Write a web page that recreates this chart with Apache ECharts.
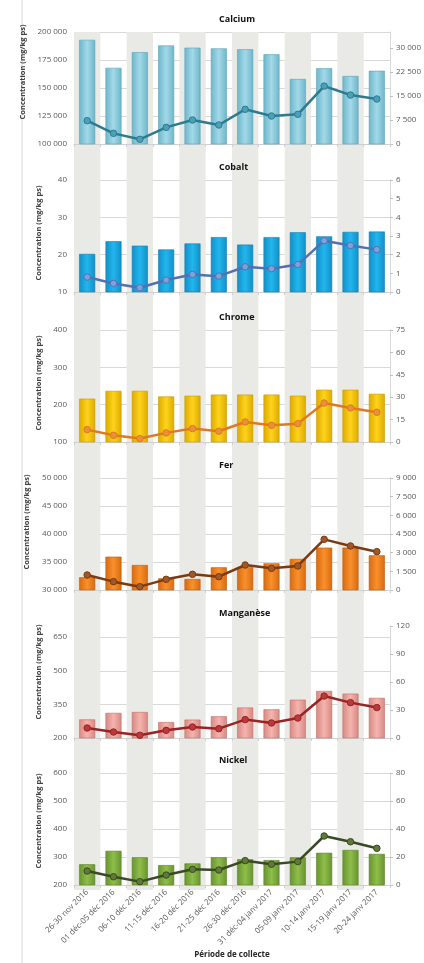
<!DOCTYPE html>
<html><head><meta charset="utf-8">
<script src="https://cdn.jsdelivr.net/npm/echarts@6/dist/echarts.min.js"></script>
<style>html,body{margin:0;padding:0;background:#fff}#c{width:424px;height:963px}</style>
</head><body><div id="c"></div>
<script>
const categories = ["26-30 nov 2016","01 déc-05 déc 2016","06-10 déc 2016","11-15 déc 2016","16-20 déc 2016","21-25 déc 2016","26-30 déc 2016","31 déc-04 janv 2017","05-09 janv 2017","10-14 janv 2017","15-19 janv 2017","20-24 janv 2017"];
const elements = ["Calcium","Cobalt","Chrome","Fer","Manganèse","Nickel"];

const calciumBars = [193000,168000,182000,188000,186000,185400,184600,180100,158000,167600,160700,165400];
const calciumLine = [7280,3330,1460,5200,7500,5940,10840,8750,9280,18100,15300,14060];
const cobaltBars = [20.2,23.6,22.4,21.4,23.0,24.7,22.7,24.7,26.0,24.9,26.1,26.2];
const cobaltLine = [0.80,0.46,0.23,0.64,0.94,0.85,1.35,1.25,1.47,2.75,2.49,2.27];
const chromeBars = [216,237,237,222,224,227,227,227,224,240,240,229];
const chromeLine = [8.3,4.5,2.3,6.1,9.0,7.2,13.4,11.2,12.3,26.1,22.8,19.9];
const ferBars = [32270,35950,34460,32090,31960,34050,34050,34760,35540,37560,37560,36190];
const ferLine = [1205,670,268,857,1260,1070,2009,1740,1930,4070,3540,3080];
const mnBars = [283,312,316,271,282,297,336,328,371,410,398,379];
const mnLine = [10.7,6.4,2.9,8.2,11.8,10.0,19.7,16.1,21.4,45.0,37.9,32.6];
const niBars = [274,322,299,271,277,299,292,289,299,315,325,311];
const niLine = [10.0,5.9,2.4,7.1,11.2,10.7,17.4,14.8,16.7,35.0,30.9,26.2];

// left axis ticks and right axis ticks per element
const leftTicks = [
  [100000,125000,150000,175000,200000],
  [10,20,30,40],
  [100,200,300,400],
  [30000,35000,40000,45000,50000],
  [200,350,500,650],
  [200,300,400,500,600]
];
const leftMax = [200000,40,400,50000,700,600];
const rightTicks = [
  [0,7500,15000,22500,30000],
  [0,1,2,3,4,5,6],
  [0,15,30,45,60,75],
  [0,1500,3000,4500,6000,7500,9000],
  [0,30,60,90,120],
  [0,20,40,60,80]
];
const rightMax = [35000,6,75,9000,120,80];

const barSeries = [calciumBars,cobaltBars,chromeBars,ferBars,mnBars,niBars];
const lineSeries = [calciumLine,cobaltLine,chromeLine,ferLine,mnLine,niLine];

const styles = [
  {light:'#a3d9e8',dark:'#6cb6ca',border:'#5aa3b8',line:'#2e7b8f',marker:'#4aa0b8'},
  {light:'#22b6ee',dark:'#138ec6',border:'#0f7fb3',line:'#5470b0',marker:'#7ea0dc'},
  {light:'#ffd31c',dark:'#dcaa00',border:'#c99a00',line:'#e07a22',marker:'#e8903a'},
  {light:'#fa902c',dark:'#d76a10',border:'#c05a08',line:'#7a3a12',marker:'#a0582a'},
  {light:'#f5b4ae',dark:'#d78882',border:'#c0706a',line:'#9a2424',marker:'#b83a3a'},
  {light:'#8fbe4a',dark:'#689330',border:'#5a8228',line:'#3a4a26',marker:'#5e7a36'}
];
const tops = [32,180,330,478,626,773];
const namePad = [32,6,6,24,20,16];
const FONT = 'Open Sans';
const fmt = v => String(v).replace(/\B(?=(\d{3})+(?!\d))/g,' ');

const grids = [{left:74,right:34,top:32,height:858}];
const xAxes = [{
  gridIndex:0,type:'category',data:categories,boundaryGap:true,
  axisLine:{show:false},axisTick:{show:false},axisLabel:{show:false},
  splitLine:{show:false},
  splitArea:{show:true,interval:0,areaStyle:{color:['#e9e9e5','rgba(255,255,255,0)']}}
}];
const yAxes = [{gridIndex:0,type:'value',min:0,max:1,show:false}];
const series = [];
const titles = [];

elements.forEach((name,i)=>{
  const g = i+1;
  grids.push({left:74,right:34,top:tops[i],height:112});
  const last = i===elements.length-1;
  xAxes.push({
    gridIndex:g,type:'category',data:categories,boundaryGap:true,
    axisLine:{show:true,lineStyle:{color:'#d0d0d0'}},
    axisTick:{show:true,length:3,interval:0,lineStyle:{color:'#d0d0d0'}},
    axisLabel:{show:last,interval:0,rotate:45,fontSize:8,color:'#595959',fontFamily:FONT,margin:6},
    name:last?'Période de collecte':'',nameLocation:'middle',nameGap:66,
    nameTextStyle:{fontSize:8,fontWeight:'bold',color:'#262626',fontFamily:FONT}
  });
  const lt = leftTicks[i], rt = rightTicks[i];
  yAxes.push({
    gridIndex:g,type:'value',position:'left',min:lt[0],max:leftMax[i],
    axisLabel:{customValues:lt,fontSize:8,color:'#595959',fontFamily:FONT,margin:7,formatter:fmt},
    axisTick:{show:false,customValues:lt},
    axisLine:{show:false},
    splitLine:{show:true,lineStyle:{color:'#d9d9d9',width:1}},
    name:'Concentration (mg/kg ps)',nameLocation:'middle',nameGap:31,nameRotate:90,
    nameTextStyle:{fontSize:7.5,fontWeight:'bold',color:'#404040',fontFamily:FONT,padding:[0,0,0,namePad[i]]}
  });
  yAxes.push({
    gridIndex:g,type:'value',position:'right',min:0,max:rightMax[i],
    axisLabel:{customValues:rt,fontSize:8,color:'#595959',fontFamily:FONT,margin:6,formatter:fmt},
    axisTick:{show:true,customValues:rt,length:3,lineStyle:{color:'#bfbfbf'}},
    axisLine:{show:true,lineStyle:{color:'#d9d9d9'}},
    splitLine:{show:false}
  });
  const s = styles[i];
  series.push({
    type:'bar',xAxisIndex:g,yAxisIndex:2*i+1,data:barSeries[i],barWidth:16,
    itemStyle:{
      color:{type:'linear',x:0,y:0,x2:1,y2:0,colorStops:[{offset:0,color:s.dark},{offset:0.5,color:s.light},{offset:1,color:s.dark}]},
      borderColor:s.border,borderWidth:0.6
    },z:2
  });
  series.push({
    type:'line',xAxisIndex:g,yAxisIndex:2*i+2,data:lineSeries[i],
    symbol:'circle',symbolSize:6.5,
    lineStyle:{color:s.line,width:2.5},
    itemStyle:{color:s.marker,borderColor:s.line,borderWidth:1},z:3
  });
  titles.push({text:name,left:219,top:tops[i]-17,padding:0,
    textStyle:{fontSize:9,fontWeight:'bold',color:'#111',fontFamily:FONT}});
});

const chart = echarts.init(document.getElementById('c'),null,{renderer:'canvas'});
chart.setOption({
  animation:false,
  backgroundColor:'#ffffff',
  title:titles,
  grid:grids,xAxis:xAxes,yAxis:yAxes,series:series,
  graphic:[{type:'line',shape:{x1:22,y1:0,x2:22,y2:963},style:{stroke:'#d9d9d9',lineWidth:1},silent:true}]
});
</script></body></html>
